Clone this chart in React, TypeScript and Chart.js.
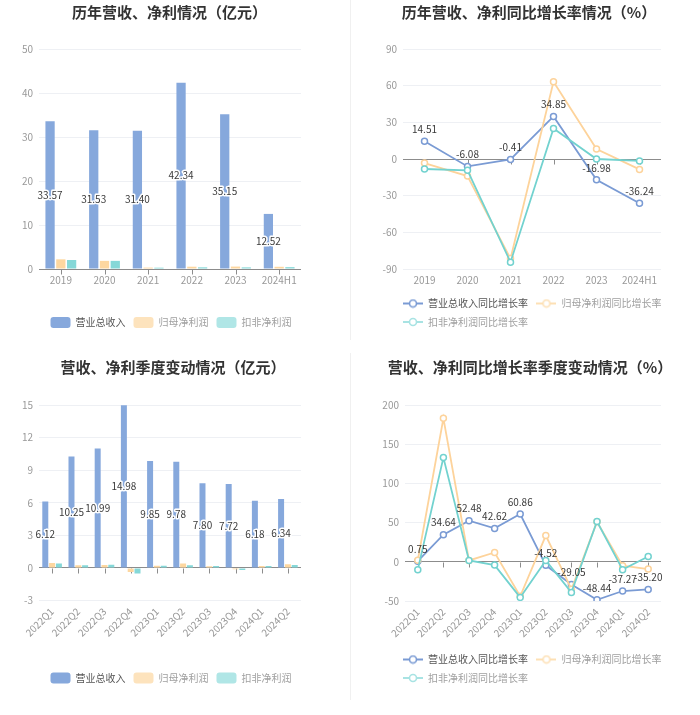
import React, { useEffect, useRef } from 'react';
import { Chart, registerables } from 'chart.js';

Chart.register(...registerables);

const FONT = '"Noto Sans CJK SC", "Noto Sans", sans-serif';
Chart.defaults.font.family = FONT;

// ---------- data ----------
const years = ['2019', '2020', '2021', '2022', '2023', '2024H1'];
const annualRevenue = [33.57, 31.53, 31.4, 42.34, 35.15, 12.52];
const annualNetProfit = [2.2, 1.85, 0.32, 0.52, 0.55, 0.5];
const annualDeductedProfit = [2.05, 1.85, 0.3, 0.38, 0.37, 0.42];
const annualYTicks = [0, 10, 20, 30, 40, 50];

const annualRevenueGrowth = [14.51, -6.08, -0.41, 34.85, -16.98, -36.24];
const annualNetProfitGrowth = [-3.3, -14, -81.5, 63.2, 8.2, -8.5];
const annualDeductedGrowth = [-8.2, -9.3, -84.4, 25, 0, -1.6];
const annualGrowthYTicks = [-90, -60, -30, 0, 30, 60, 90];

const quarters = ['2022Q1', '2022Q2', '2022Q3', '2022Q4', '2023Q1', '2023Q2', '2023Q3', '2023Q4', '2024Q1', '2024Q2'];
const quarterRevenue = [6.12, 10.25, 10.99, 14.98, 9.85, 9.78, 7.8, 7.72, 6.18, 6.34];
const quarterNetProfit = [0.46, 0.24, 0.28, -0.37, 0.21, 0.4, 0.15, -0.12, 0.18, 0.34];
const quarterDeductedProfit = [0.4, 0.24, 0.3, -0.52, 0.21, 0.24, 0.18, -0.2, 0.18, 0.28];
const quarterYTicks = [-3, 0, 3, 6, 9, 12, 15];

const quarterRevenueGrowth = [0.75, 34.64, 52.48, 42.62, 60.86, -4.52, -29.05, -48.44, -37.27, -35.2];
const quarterNetProfitGrowth = [2, 183, 1.7, 11.9, -44, 33.5, -35, 51, -5, -9.3];
const quarterDeductedGrowth = [-10, 133, 1.7, -4.2, -45.4, 1.7, -39, 51.4, -10, 6.8];
const quarterGrowthYTicks = [-50, 0, 50, 100, 150, 200];

const barLegendNames = ['营业总收入', '归母净利润', '扣非净利润'];
const lineLegendNames = ['营业总收入同比增长率', '归母净利润同比增长率', '扣非净利润同比增长率'];

// ---------- styles ----------
const BLUE_BAR = '#86a8dc';
const ORANGE_BAR = '#fdd7a0';
const TEAL_BAR = '#85d8d8';
const BLUE_LINE = '#7a9bd4';
const ORANGE_LINE = '#fdd39b';
const TEAL_LINE = '#72d2cf';
const BAR_LEGEND = [BLUE_BAR, '#fde3bd', '#b0e6e6'];
const LINE_LEGEND = [BLUE_LINE, '#fde0b5', '#a8e3e3'];
const GRID = '#eef0f4';
const AXIS = '#8c8c8c';
const TICK_TEXT = '#999';

function lineIcon(color: string) {
  const c = document.createElement('canvas');
  c.width = 20;
  c.height = 10;
  const g = c.getContext('2d')!;
  g.strokeStyle = color;
  g.lineWidth = 2;
  g.beginPath();
  g.moveTo(0, 5);
  g.lineTo(20, 5);
  g.stroke();
  g.beginPath();
  g.arc(10, 5, 3.5, 0, Math.PI * 2);
  g.fillStyle = '#fff';
  g.fill();
  g.lineWidth = 1.6;
  g.stroke();
  return c;
}

const panelPlugin: any = {
  id: 'panelFx',
  afterLayout(chart: any, _a: any, opts: any) {
    const t = chart.titleBlock;
    if (t && opts.titleCenter != null) {
      const d = opts.titleCenter - (t.left + t.right) / 2;
      t.left += d;
      t.right += d;
    }
    const l = chart.legend;
    if (l) {
      const pad = l.options.labels.padding;
      let d = 0;
      if (opts.legendCenter != null) d = opts.legendCenter - (l.left + l.right) / 2;
      else if (opts.legendStart != null) d = opts.legendStart - (l.left + pad);
      l.left += d;
      l.right += d;
    }
  },
  beforeDatasetsDraw(chart: any) {
    const x = chart.scales.x;
    const y = chart.scales.y;
    const ctx = chart.ctx;
    const zy = Math.round(y.getPixelForValue(0)) + 0.5;
    ctx.save();
    ctx.strokeStyle = AXIS;
    ctx.lineWidth = 1;
    ctx.beginPath();
    for (let i = 0; i < x.ticks.length; i++) {
      const px = Math.round(x.getPixelForTick(i)) + 0.5;
      ctx.moveTo(px, zy);
      ctx.lineTo(px, zy + 5);
    }
    ctx.stroke();
    ctx.restore();
  },
  afterDatasetsDraw(chart: any, _a: any, opts: any) {
    const ctx = chart.ctx;
    const meta = chart.getDatasetMeta(0);
    const data = chart.data.datasets[0].data as number[];
    ctx.save();
    ctx.font = '10px ' + FONT;
    ctx.textAlign = 'center';
    ctx.textBaseline = 'middle';
    ctx.lineJoin = 'round';
    meta.data.forEach((el: any, i: number) => {
      const text = data[i].toFixed(2);
      if (opts.labelMode === 'bar') {
        const y = (el.y + el.base) / 2;
        ctx.strokeStyle = '#fff';
        ctx.lineWidth = 3;
        ctx.strokeText(text, el.x, y);
        ctx.fillStyle = '#3a3a3a';
        ctx.fillText(text, el.x, y);
      } else {
        ctx.fillStyle = '#3a3a3a';
        ctx.fillText(text, el.x, el.y - 12);
      }
    });
    ctx.restore();
  },
};

function makeScales(labelsRotate: number, yTicks: number[], yWidth: number, xHeight: number) {
  return {
    x: {
      type: 'category',
      offset: true,
      grid: { display: false, drawTicks: false },
      border: { display: false },
      ticks: {
        color: TICK_TEXT,
        font: { size: 10 },
        padding: 5,
        autoSkip: false,
        maxRotation: labelsRotate,
        minRotation: labelsRotate,
      },
      afterFit: (s: any) => {
        s.height = xHeight;
      },
    },
    y: {
      min: yTicks[0],
      max: yTicks[yTicks.length - 1],
      afterBuildTicks: (s: any) => {
        s.ticks = yTicks.map((v) => ({ value: v }));
      },
      grid: {
        color: (c: any) => (c.tick && c.tick.value === 0 ? AXIS : GRID),
        drawTicks: false,
        lineWidth: 1,
      },
      border: { display: false },
      ticks: { color: TICK_TEXT, font: { size: 10 }, padding: 6 },
      afterFit: (s: any) => {
        s.width = yWidth;
      },
    },
  };
}

function titleOpts(text: string, top: number, bottom: number) {
  return {
    display: true,
    text,
    color: '#333',
    font: { size: 15, weight: 'bold' as const, family: FONT },
    padding: { top, bottom },
  };
}

function barLegend() {
  return {
    display: true,
    position: 'bottom' as const,
    align: 'center' as const,
    labels: {
      boxWidth: 20,
      boxHeight: 11,
      padding: 8,
      font: { size: 10 },
      useBorderRadius: true,
      borderRadius: 3,
      generateLabels: (chart: any) =>
        chart.data.datasets.map((ds: any, i: number) => ({
          text: ds.label,
          fillStyle: BAR_LEGEND[i],
          strokeStyle: BAR_LEGEND[i],
          lineWidth: 0,
          hidden: false,
          datasetIndex: i,
          borderRadius: 3,
          fontColor: i === 0 ? '#555' : '#a0a0a0',
        })),
    },
  };
}

function lineLegend() {
  return {
    display: true,
    position: 'bottom' as const,
    align: 'start' as const,
    labels: {
      usePointStyle: true,
      pointStyleWidth: 20,
      boxHeight: 10,
      padding: 8.5,
      font: { size: 10 },
      generateLabels: (chart: any) =>
        chart.data.datasets.map((ds: any, i: number) => ({
          text: ds.label,
          fillStyle: '#fff',
          strokeStyle: LINE_LEGEND[i],
          lineWidth: 0,
          hidden: false,
          datasetIndex: i,
          pointStyle: lineIcon(LINE_LEGEND[i]),
          fontColor: i === 0 ? '#555' : '#a0a0a0',
        })),
    },
  };
}

function barConfig(
  title: string,
  labels: string[],
  rev: number[],
  np: number[],
  dp: number[],
  yTicks: number[],
  layout: any
) {
  const ds = (label: string, data: number[], color: string) => ({
    label,
    data,
    backgroundColor: color,
    borderWidth: 0,
    categoryPercentage: layout.catPct,
    barPercentage: layout.barPct,
  });
  return {
    type: 'bar',
    data: {
      labels,
      datasets: [
        ds(barLegendNames[0], rev, BLUE_BAR),
        ds(barLegendNames[1], np, ORANGE_BAR),
        ds(barLegendNames[2], dp, TEAL_BAR),
      ],
    },
    options: {
      responsive: false,
      animation: false,
      events: [],
      layout: { padding: { left: 0, right: layout.padRight, top: 0, bottom: layout.padBottom } },
      scales: makeScales(layout.rotate, yTicks, layout.yWidth, layout.xHeight),
      plugins: {
        title: titleOpts(title, layout.titleTop, layout.titleBottom),
        legend: barLegend(),
        tooltip: { enabled: false },
        panelFx: { titleCenter: layout.titleCenter, legendCenter: layout.legendCenter, labelMode: 'bar' },
      },
    },
    plugins: [panelPlugin],
  };
}

function lineConfig(
  title: string,
  labels: string[],
  rev: number[],
  np: number[],
  dp: number[],
  yTicks: number[],
  layout: any
) {
  const ds = (label: string, data: number[], color: string, order: number) => ({
    label,
    data,
    borderColor: color,
    backgroundColor: color,
    borderWidth: 1.8,
    pointRadius: 3,
    pointBorderWidth: 1.5,
    pointBackgroundColor: '#fff',
    pointBorderColor: color,
    tension: 0,
    fill: false,
    order,
  });
  return {
    type: 'line',
    data: {
      labels,
      datasets: [
        ds(lineLegendNames[0], rev, BLUE_LINE, 3),
        ds(lineLegendNames[1], np, ORANGE_LINE, 2),
        ds(lineLegendNames[2], dp, TEAL_LINE, 1),
      ],
    },
    options: {
      responsive: false,
      animation: false,
      events: [],
      layout: { padding: { left: 0, right: layout.padRight, top: 0, bottom: layout.padBottom } },
      scales: makeScales(layout.rotate, yTicks, layout.yWidth, layout.xHeight),
      plugins: {
        title: titleOpts(title, layout.titleTop, layout.titleBottom),
        legend: lineLegend(),
        tooltip: { enabled: false },
        panelFx: { titleCenter: layout.titleCenter, legendStart: layout.legendStart, labelMode: 'line' },
      },
    },
    plugins: [panelPlugin],
  };
}

function ChartCanvas(props: { make: () => any; left: number; top: number; width: number; height: number }) {
  const ref = useRef<HTMLCanvasElement>(null);
  useEffect(() => {
    const chart = new Chart(ref.current as HTMLCanvasElement, props.make());
    return () => chart.destroy();
  }, []);
  return (
    <div style={{ position: 'absolute', left: props.left, top: props.top, width: props.width, height: props.height }}>
      <canvas ref={ref} width={props.width} height={props.height} style={{ display: 'block' }} />
    </div>
  );
}

const make1 = () =>
  barConfig('历年营收、净利情况（亿元）', years, annualRevenue, annualNetProfit, annualDeductedProfit, annualYTicks, {
    catPct: 0.74,
    barPct: 0.86,
    padRight: 49,
    padBottom: 2,
    yWidth: 39,
    xHeight: 40,
    rotate: 0,
    titleTop: 3.5,
    titleBottom: 27.5,
    titleCenter: 169.5,
    legendCenter: 171,
  });

const make2 = () =>
  lineConfig(
    '历年营收、净利同比增长率情况（%）',
    years,
    annualRevenueGrowth,
    annualNetProfitGrowth,
    annualDeductedGrowth,
    annualGrowthYTicks,
    {
      padRight: 39,
      padBottom: 3,
      yWidth: 53,
      xHeight: 21,
      rotate: 0,
      titleTop: 3.5,
      titleBottom: 27.5,
      titleCenter: 179,
      legendStart: 53,
    }
  );

const make3 = () =>
  barConfig('营收、净利季度变动情况（亿元）', quarters, quarterRevenue, quarterNetProfit, quarterDeductedProfit, quarterYTicks, {
    catPct: 0.78,
    barPct: 0.88,
    padRight: 49,
    padBottom: 21.5,
    yWidth: 39,
    xHeight: 64,
    rotate: 45,
    titleTop: 8.5,
    titleBottom: 28.5,
    titleCenter: 173,
    legendCenter: 171,
  });

const make4 = () =>
  lineConfig(
    '营收、净利同比增长率季度变动情况（%）',
    quarters,
    quarterRevenueGrowth,
    quarterNetProfitGrowth,
    quarterDeductedGrowth,
    quarterGrowthYTicks,
    {
      padRight: 39,
      padBottom: 22,
      yWidth: 55,
      xHeight: 45,
      rotate: 45,
      titleTop: 8.5,
      titleBottom: 28.5,
      titleCenter: 180,
      legendStart: 53,
    }
  );

export default function App() {
  return (
    <div style={{ position: 'absolute', left: 0, top: 0, width: 700, height: 715, background: '#fff', overflow: 'hidden' }}>
      <ChartCanvas make={make1} left={0} top={0} width={350} height={340} />
      <ChartCanvas make={make2} left={350} top={0} width={350} height={340} />
      <ChartCanvas make={make3} left={0} top={350} width={350} height={365} />
      <ChartCanvas make={make4} left={350} top={350} width={350} height={365} />
      <div style={{ position: 'absolute', left: 350, top: 0, width: 1, height: 340, background: '#f0f0f0' }} />
      <div style={{ position: 'absolute', left: 350, top: 353, width: 1, height: 347, background: '#f0f0f0' }} />
    </div>
  );
}
